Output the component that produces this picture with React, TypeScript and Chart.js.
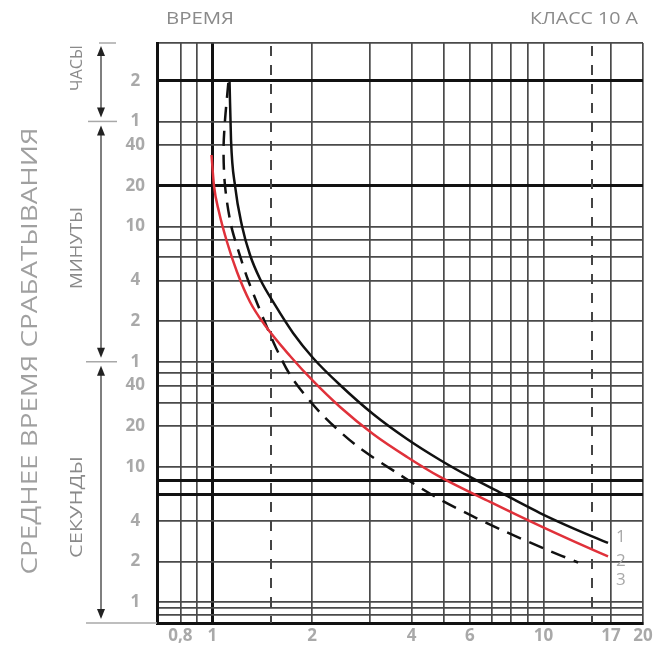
import React, { useEffect, useRef } from 'react';
import { Chart, registerables } from 'chart.js';

Chart.register(...registerables);

// ---- Data (x = multiple of rated current, y = time in seconds) ----
const curve1X = [1.1265, 1.1381, 1.1704, 1.2284, 1.2991, 1.3927, 1.5457, 1.7521, 2.0137, 2.4303, 3.0573, 3.873, 4.873, 6.003, 7.657, 9.77, 12.46, 15.68];
const curve1Y = [7052, 2626, 1199, 606.5, 370, 245.9, 157.9, 98, 64, 40.4, 24.65, 16.1, 11.26, 8.43, 6.2, 4.56, 3.47, 2.74];

const curve2X = [0.9938, 1.0111, 1.0469, 1.1069, 1.1866, 1.2991, 1.4319, 1.7164, 2.0137, 2.4303, 3.0573, 3.873, 4.873, 6.902, 9.77, 12.46, 15.68];
const curve2Y = [2033, 1199, 769.8, 461.7, 277, 166.2, 114.2, 66.2, 43.25, 27.77, 17.53, 11.85, 8.43, 5.505, 3.656, 2.785, 2.175];

const curve3X = [1.117, 1.0916, 1.0803, 1.0916, 1.1381, 1.2117, 1.281, 1.3638, 1.4521, 1.5567, 1.7364, 2.1264, 2.729, 3.625, 4.706, 6.003, 7.657, 10.12, 12.73];
const curve3Y = [6934, 3692, 2214, 1199, 617, 363.8, 241.7, 163.4, 112.3, 75.9, 45.9, 24.95, 14.34, 8.97, 6.026, 4.41, 3.33, 2.47, 1.963];

const curveNames = ['1', '2', '3'];

// ---- Axes ----
const X_MIN = 0.68;
const X_MAX = 20;
const xGridValues = [0.8, 0.9, 1, 2, 3, 4, 5, 6, 7, 8, 9, 10, 16, 20];
const xThickValues = [1];
const xDashedValues = [1.5, 14];
const xTickValues = [0.8, 1, 2, 4, 6, 10, 16, 20];
const xTickLabels = ['0,8', '1', '2', '4', '6', '10', '17', '20'];

const Y_MIN = 0.7;
const Y_MAX = 13700;
const yGridValues = [0.8, 0.9, 1, 2, 4, 6.3, 8, 10, 20, 30, 40, 50, 60, 120, 240, 360, 480, 600, 1200, 2400, 3600, 7200, 13700];
const yThickValues = [6.3, 8, 1200, 7200];
const yTickValues = [1, 2, 4, 10, 20, 40, 60, 120, 240, 600, 1200, 2400, 3600, 7200];
const yTickLabels = ['1', '2', '4', '10', '20', '40', '1', '2', '4', '10', '20', '40', '1', '2'];

const HOUR = 3600;
const MINUTE = 60;

const headerLeft = 'ВРЕМЯ';
const headerRight = 'КЛАСС 10 А';
const yTitle = 'СРЕДНЕЕ ВРЕМЯ СРАБАТЫВАНИЯ';
const unitHours = 'ЧАСЫ';
const unitMinutes = 'МИНУТЫ';
const unitSeconds = 'СЕКУНДЫ';

const FONT = '"Open Sans", "DejaVu Sans", sans-serif';
const TICK_COLOR = '#a9a9a9';
const TEXT_COLOR = '#8a8a8a';
const GRID_THIN = '#4a4a4a';
const GRID_THICK = '#111111';

const near = (a: number, b: number) => Math.abs(a - b) < 1e-6 * Math.max(1, Math.abs(b));

function fitText(ctx: CanvasRenderingContext2D, text: string, cx: number, cy: number, font: string, color: string, rotate: boolean, targetLen?: number) {
  ctx.save();
  ctx.translate(cx, cy);
  if (rotate) ctx.rotate(-Math.PI / 2);
  ctx.font = font;
  ctx.fillStyle = color;
  ctx.textAlign = 'center';
  ctx.textBaseline = 'middle';
  if (targetLen) {
    const w = ctx.measureText(text).width;
    ctx.scale(targetLen / w, 1);
  }
  ctx.fillText(text, 0, 0);
  ctx.restore();
}

function arrowV(ctx: CanvasRenderingContext2D, x: number, y1: number, y2: number) {
  ctx.save();
  ctx.strokeStyle = '#555';
  ctx.lineWidth = 1.5;
  ctx.beginPath();
  ctx.moveTo(x, y1 + 6);
  ctx.lineTo(x, y2 - 6);
  ctx.stroke();
  ctx.fillStyle = '#222';
  ctx.beginPath();
  ctx.moveTo(x, y1);
  ctx.lineTo(x - 4, y1 + 10);
  ctx.lineTo(x + 4, y1 + 10);
  ctx.closePath();
  ctx.fill();
  ctx.beginPath();
  ctx.moveTo(x, y2);
  ctx.lineTo(x - 4, y2 - 10);
  ctx.lineTo(x + 4, y2 - 10);
  ctx.closePath();
  ctx.fill();
  ctx.restore();
}

function hLine(ctx: CanvasRenderingContext2D, x1: number, x2: number, y: number) {
  ctx.save();
  ctx.strokeStyle = '#a8a8a8';
  ctx.lineWidth = 1.5;
  ctx.beginPath();
  ctx.moveTo(x1, y);
  ctx.lineTo(x2, y);
  ctx.stroke();
  ctx.restore();
}

const dashedGridPlugin = {
  id: 'dashedGrid',
  beforeDatasetsDraw(chart: any) {
    const { ctx, chartArea, scales } = chart;
    ctx.save();
    ctx.strokeStyle = '#444';
    ctx.lineWidth = 2;
    ctx.setLineDash([10, 9]);
    ctx.lineDashOffset = -3;
    xDashedValues.forEach((v) => {
      const x = Math.round(scales.x.getPixelForValue(v));
      ctx.beginPath();
      ctx.moveTo(x, chartArea.top);
      ctx.lineTo(x, chartArea.bottom);
      ctx.stroke();
    });
    ctx.restore();
  },
};

const annotationPlugin = {
  id: 'annotations',
  afterDraw(chart: any) {
    const { ctx, chartArea, scales } = chart;
    const y = scales.y;
    const x = scales.x;
    const top = chartArea.top;
    const bottom = chartArea.bottom;
    const yH = y.getPixelForValue(HOUR);
    const yM = y.getPixelForValue(MINUTE);

    // header
    fitText(ctx, headerLeft, 200, 19, `400 16px ${FONT}`, TEXT_COLOR, false, 68);
    fitText(ctx, headerRight, 584, 19, `400 16px ${FONT}`, TEXT_COLOR, false, 108);

    // big title
    fitText(ctx, yTitle, 31, 351, `400 22px ${FONT}`, '#a0a0a0', true, 447);

    // unit labels
    fitText(ctx, unitHours, 77, 68, `400 16px ${FONT}`, TEXT_COLOR, true, 46);
    fitText(ctx, unitMinutes, 77, 248, `400 16px ${FONT}`, TEXT_COLOR, true, 82);
    fitText(ctx, unitSeconds, 77, 507, `400 16px ${FONT}`, TEXT_COLOR, true, 102);

    // separators
    hLine(ctx, 99, 116, top);
    hLine(ctx, 88, 117, yH);
    hLine(ctx, 86, 117, yM);
    hLine(ctx, 86, chartArea.left, bottom);

    // arrows
    arrowV(ctx, 101, top + 3, yH - 4);
    arrowV(ctx, 101, yH + 4, yM - 4);
    arrowV(ctx, 101, yM + 4, bottom - 4);

    // curve numbers
    ctx.save();
    ctx.font = `400 17px ${FONT}`;
    ctx.fillStyle = '#a8a8a8';
    ctx.textAlign = 'center';
    ctx.textBaseline = 'middle';
    const lx = x.getPixelForValue(16) + 10;
    ctx.fillText(curveNames[0], lx, 537);
    ctx.fillText(curveNames[1], lx, 561);
    ctx.fillText(curveNames[2], lx, 580);
    ctx.restore();
  },
};

function labelFor(values: number[], labels: string[], v: number) {
  const i = values.findIndex((t) => near(t, v));
  return i >= 0 ? labels[i] : '';
}

export default function App() {
  const ref = useRef<HTMLCanvasElement | null>(null);

  useEffect(() => {
    if (!ref.current) return;
    const toPts = (xs: number[], ys: number[]) => xs.map((xv, i) => ({ x: xv, y: ys[i] }));
    const chart = new Chart(ref.current, {
      type: 'line',
      data: {
        datasets: [
          {
            label: curveNames[0],
            data: toPts(curve1X, curve1Y),
            borderColor: '#111',
            borderWidth: 2.5,
            pointRadius: 0,
            cubicInterpolationMode: 'monotone',
            fill: false,
          },
          {
            label: curveNames[1],
            data: toPts(curve2X, curve2Y),
            borderColor: '#e0313a',
            borderWidth: 2.5,
            pointRadius: 0,
            cubicInterpolationMode: 'monotone',
            fill: false,
          },
          {
            label: curveNames[2],
            data: toPts(curve3X, curve3Y),
            borderColor: '#111',
            borderWidth: 2.5,
            borderDash: [15, 9],
            pointRadius: 0,
            tension: 0.3,
            fill: false,
          },
        ],
      },
      options: {
        responsive: false,
        animation: false,
        maintainAspectRatio: false,
        layout: { padding: { left: 0, right: 18, top: 43, bottom: 0 } },
        plugins: { legend: { display: false }, tooltip: { enabled: false } },
        scales: {
          x: {
            type: 'logarithmic',
            min: X_MIN,
            max: X_MAX,
            afterBuildTicks: (s: any) => {
              s.ticks = xGridValues.map((v) => ({ value: v }));
            },
            afterFit: (s: any) => {
              s.height = 24;
              s.paddingLeft = 0;
              s.paddingRight = 0;
            },
            ticks: {
              autoSkip: false,
              maxRotation: 0,
              minRotation: 0,
              padding: 3,
              color: TICK_COLOR,
              font: { family: FONT, size: 17, weight: '700' },
              callback: (v: any) => labelFor(xTickValues, xTickLabels, Number(v)),
            },
            grid: {
              drawTicks: false,
              color: (c: any) => (c.tick && xThickValues.some((t) => near(t, c.tick.value)) ? GRID_THICK : GRID_THIN),
              lineWidth: (c: any) => (c.tick && xThickValues.some((t) => near(t, c.tick.value)) ? 3 : 1.7),
            },
            border: { display: true, color: '#111', width: 3 },
          },
          y: {
            type: 'logarithmic',
            min: Y_MIN,
            max: Y_MAX,
            afterBuildTicks: (s: any) => {
              s.ticks = yGridValues.map((v) => ({ value: v }));
            },
            afterFit: (s: any) => {
              s.width = 157;
              s.paddingTop = 0;
              s.paddingBottom = 0;
            },
            ticks: {
              autoSkip: false,
              padding: 12,
              crossAlign: 'center',
              color: TICK_COLOR,
              font: { family: FONT, size: 17, weight: '700' },
              callback: (v: any) => labelFor(yTickValues, yTickLabels, Number(v)),
            },
            grid: {
              drawTicks: false,
              color: (c: any) => (c.tick && yThickValues.some((t) => near(t, c.tick.value)) ? GRID_THICK : GRID_THIN),
              lineWidth: (c: any) => (c.tick && yThickValues.some((t) => near(t, c.tick.value)) ? 3 : 1.7),
            },
            border: { display: true, color: '#111', width: 3 },
          },
        },
      },
      plugins: [dashedGridPlugin, annotationPlugin],
    } as any);
    return () => chart.destroy();
  }, []);

  return (
    <div style={{ position: 'absolute', left: 0, top: 0, width: 661, height: 647, background: '#fff' }}>
      <canvas ref={ref} width={661} height={647} style={{ display: 'block', width: 661, height: 647 }} />
    </div>
  );
}
